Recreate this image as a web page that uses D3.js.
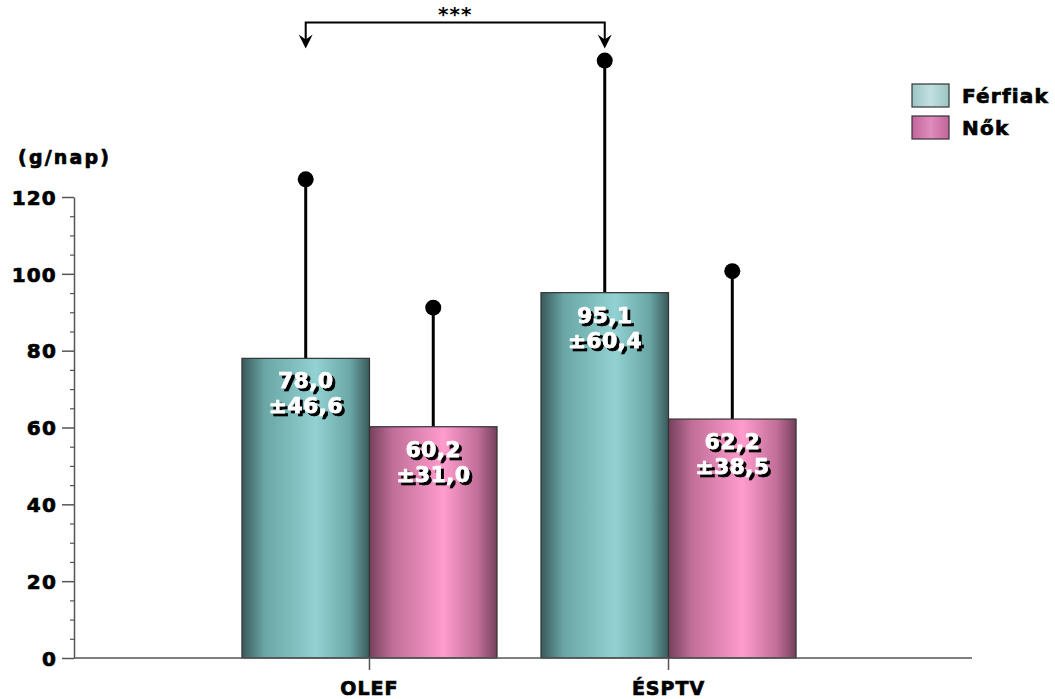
<!DOCTYPE html>
<html>
<head>
<meta charset="utf-8">
<script src="https://cdn.jsdelivr.net/npm/d3@7"></script>
<style>
  body { margin: 0; background: #fff; }
  svg { display: block; }
  text { font-family: "DejaVu Sans", Verdana, sans-serif; }
  .heavy { stroke: #000; stroke-width: 0.7px; }
  .heavyWhite { stroke: #fff; stroke-width: 0.6px; }
</style>
</head>
<body>
<svg id="chart" width="1055" height="699"></svg>
<script>
// Daily intake (g/nap) by survey and sex: mean and standard deviation
const categories = ["OLEF", "ÉSPTV"];
const seriesNames = ["Férfiak", "Nők"];
const menMeans = [78.0, 95.1];
const menSD = [46.6, 60.4];
const womenMeans = [60.2, 62.2];
const womenSD = [31.0, 38.5];
const yTicks = [0, 20, 40, 60, 80, 100, 120];
const minorTicks = [5, 10, 15, 25, 30, 35, 45, 50, 55, 65, 70, 75, 85, 90, 95, 105, 110, 115];
const unitLabel = "(g/nap)";
const sigLabel = "***";

const fmt = v => v.toFixed(1).replace(".", ",");

const svg = d3.select("#chart");
const defs = svg.append("defs");

// Cylinder-like shading for the bars
function barGradient(id, dark, mid, light) {
  const g = defs.append("linearGradient").attr("id", id)
    .attr("x1", "0%").attr("x2", "100%").attr("y1", "0%").attr("y2", "0%");
  [[0, dark], [0.18, mid], [0.58, light], [0.85, mid], [1, dark]].forEach(([o, c]) =>
    g.append("stop").attr("offset", o).attr("stop-color", c));
}
barGradient("gMen", "#3a5a5a", "#6aa6a6", "#92d2d2");
barGradient("gWomen", "#75405c", "#c06e98", "#ff9ccd");

function swatchGradient(id, a, b) {
  const g = defs.append("linearGradient").attr("id", id)
    .attr("x1", "0%").attr("x2", "100%");
  g.append("stop").attr("offset", 0).attr("stop-color", a);
  g.append("stop").attr("offset", 0.5).attr("stop-color", b);
  g.append("stop").attr("offset", 1).attr("stop-color", a);
}
swatchGradient("sMen", "#9cc4c4", "#c2e0e0");
swatchGradient("sWomen", "#c2659a", "#e08cbc");

// Hard black drop shadow for the in-bar labels
const shadow = defs.append("filter").attr("id", "hardShadow")
  .attr("x", "-10%").attr("y", "-10%").attr("width", "130%").attr("height", "140%");
shadow.append("feOffset").attr("in", "SourceAlpha").attr("dx", 2.5).attr("dy", 2.5).attr("result", "off");
const merge = shadow.append("feMerge");
merge.append("feMergeNode").attr("in", "off");
merge.append("feMergeNode").attr("in", "SourceGraphic");

const y = d3.scaleLinear().domain([0, 120]).range([658, 197]);
const x = d3.scaleBand().domain(categories).range([70, 968])
  .paddingInner(0.147).paddingOuter(0.575);
const sub = d3.scaleBand().domain([0, 1]).range([0, x.bandwidth()]);

const series = [
  { name: seriesNames[0], means: menMeans, sds: menSD, fill: "url(#gMen)", swatch: "url(#sMen)" },
  { name: seriesNames[1], means: womenMeans, sds: womenSD, fill: "url(#gWomen)", swatch: "url(#sWomen)" }
];

const axisColor = "#555";

// Y axis with major and minor ticks
const yAxis = svg.append("g").attr("transform", "translate(74,0)")
  .call(d3.axisLeft(y).tickValues(yTicks).tickSize(12).tickSizeOuter(0).tickPadding(5)
    .tickFormat(d3.format("d")));
yAxis.select(".domain").attr("stroke", axisColor).attr("stroke-width", 1.5);
yAxis.selectAll(".tick line").attr("stroke", axisColor).attr("stroke-width", 1.5);
yAxis.selectAll(".tick text").attr("font-size", 20).attr("font-weight", "bold")
  .attr("letter-spacing", 1.2).attr("dy", "0.36em").attr("class", "heavy")
  .attr("fill", "#000").style("font-family", "'DejaVu Sans', Verdana, sans-serif");

const yMinor = svg.append("g").attr("transform", "translate(74,0)")
  .call(d3.axisLeft(y).tickValues(minorTicks).tickSize(4).tickSizeOuter(0).tickFormat(""));
yMinor.select(".domain").remove();
yMinor.selectAll(".tick line").attr("stroke", axisColor).attr("stroke-width", 1.2);

svg.append("text").attr("x", 18).attr("y", 164).attr("class", "heavy")
  .attr("font-size", 19).attr("font-weight", "bold").attr("letter-spacing", 2.2)
  .text(unitLabel);

// Bars
const groups = svg.append("g").selectAll("g").data(series).join("g");
groups.each(function (s, si) {
  const g = d3.select(this);
  categories.forEach((c, ci) => {
    const x0 = x(c) + sub(si);
    const w = sub.bandwidth();
    const top = y(s.means[ci]);
    // whisker
    g.append("line")
      .attr("x1", x0 + w / 2).attr("x2", x0 + w / 2)
      .attr("y1", top).attr("y2", y(s.means[ci] + s.sds[ci]))
      .attr("stroke", "#000").attr("stroke-width", 3);
    g.append("circle")
      .attr("cx", x0 + w / 2).attr("cy", y(s.means[ci] + s.sds[ci])).attr("r", 8)
      .attr("fill", "#000");
    g.append("rect")
      .attr("x", x0).attr("y", top).attr("width", w).attr("height", y(0) - top)
      .attr("fill", s.fill).attr("stroke", "#333").attr("stroke-width", 1.2);
    // value labels
    const lines = [fmt(s.means[ci]), "±" + fmt(s.sds[ci])];
    lines.forEach((t, li) => {
      g.append("text")
        .attr("x", x0 + w / 2).attr("y", top + 30 + li * 25)
        .attr("text-anchor", "middle").attr("font-size", 22).attr("font-weight", "bold")
        .attr("letter-spacing", 0.3).attr("class", "heavyWhite")
        .attr("fill", "#fff").attr("filter", "url(#hardShadow)").text(t);
    });
  });
});

// X axis baseline and category ticks
svg.append("line").attr("x1", 74).attr("x2", 972).attr("y1", 658).attr("y2", 658)
  .attr("stroke", axisColor).attr("stroke-width", 1.5);
categories.forEach(c => {
  const cx = x(c) + x.bandwidth() / 2;
  svg.append("line").attr("x1", cx).attr("x2", cx).attr("y1", 658).attr("y2", 670)
    .attr("stroke", axisColor).attr("stroke-width", 1.5);
  svg.append("text").attr("x", cx).attr("y", 695).attr("text-anchor", "middle").attr("class", "heavy")
    .attr("font-size", 19).attr("font-weight", "bold").attr("letter-spacing", 1).text(c);
});

// Significance bracket between the two men's bars
const menCx = categories.map(c => x(c) + sub(0) + sub.bandwidth() / 2);
const whiskerTop = d3.min(categories.map((c, i) => y(menMeans[i] + menSD[i])));
const tipY = whiskerTop - 12;
const topY = tipY - 26;
svg.append("path")
  .attr("d", `M${menCx[0]},${tipY - 8}V${topY}H${menCx[1]}V${tipY - 8}`)
  .attr("fill", "none").attr("stroke", "#000").attr("stroke-width", 2);
menCx.forEach(cx => {
  svg.append("path")
    .attr("d", `M${cx},${tipY}L${cx - 7},${tipY - 14}L${cx},${tipY - 9}L${cx + 7},${tipY - 14}Z`)
    .attr("fill", "#000");
});
svg.append("text").attr("x", (menCx[0] + menCx[1]) / 2).attr("y", topY - 2)
  .attr("text-anchor", "middle").attr("font-size", 20).attr("font-weight", "bold")
  .attr("letter-spacing", 1).text(sigLabel);

// Legend
const legend = svg.append("g");
series.forEach((s, i) => {
  legend.append("rect").attr("x", 912).attr("y", 84 + i * 32).attr("width", 37).attr("height", 23)
    .attr("fill", s.swatch).attr("stroke", "#333").attr("stroke-width", 1.2);
  legend.append("text").attr("x", 962).attr("y", 103 + i * 32).attr("class", "heavy")
    .attr("font-size", 20).attr("font-weight", "bold").attr("letter-spacing", 1.2).text(s.name);
});
</script>
</body>
</html>
